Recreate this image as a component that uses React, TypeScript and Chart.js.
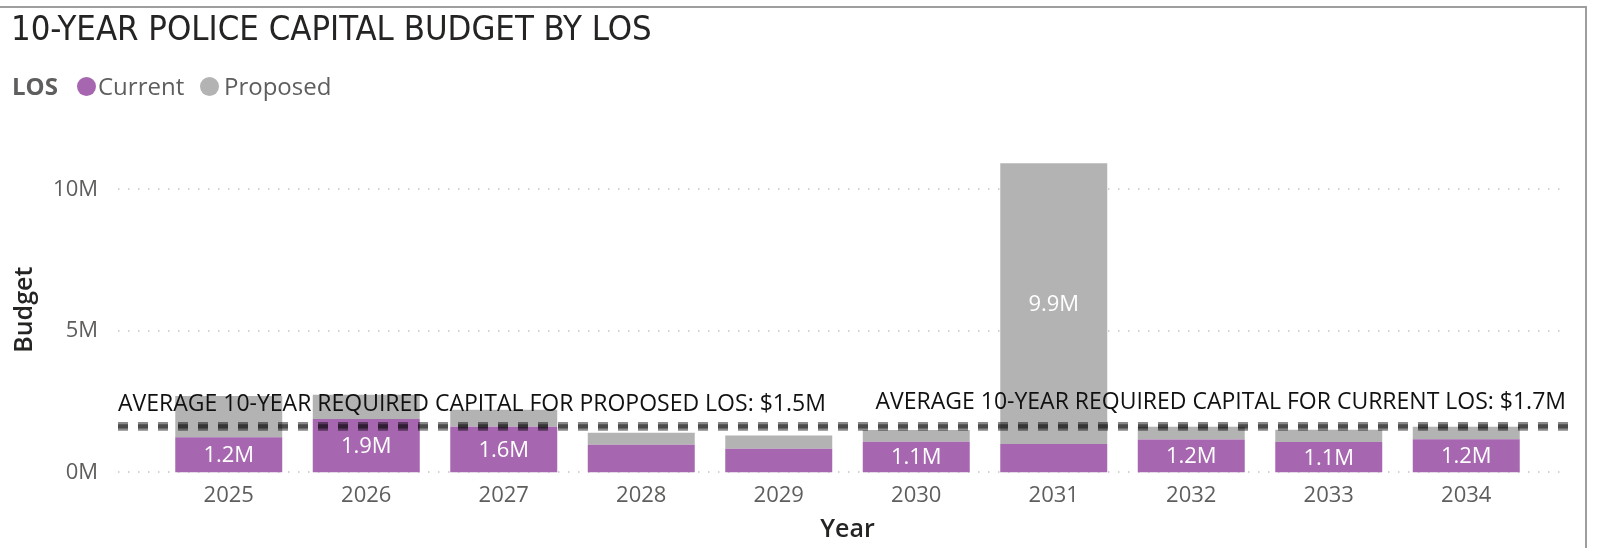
import React, { useEffect, useRef } from 'react';
import { Chart, registerables } from 'chart.js';

Chart.register(...registerables);

const years = ['2025', '2026', '2027', '2028', '2029', '2030', '2031', '2032', '2033', '2034'];
const currentBudget = [1.24e6, 1.89e6, 1.61e6, 0.98e6, 0.84e6, 1.08e6, 1.0e6, 1.16e6, 1.07e6, 1.17e6];
const proposedBudget = [1.46e6, 0.85e6, 0.6e6, 0.42e6, 0.46e6, 0.42e6, 9.93e6, 0.45e6, 0.44e6, 0.44e6];
const seriesNames = ['Current', 'Proposed'];
const yTickValues = [0, 5e6, 10e6];
const refLineValues = [1.59e6, 1.67e6];
const refLineTexts = [
  'AVERAGE 10-YEAR REQUIRED CAPITAL FOR PROPOSED LOS: $1.5M',
  'AVERAGE 10-YEAR REQUIRED CAPITAL FOR CURRENT LOS: $1.7M',
];
const refLineAligns = ['left', 'right'];

const TITLE = '10-YEAR POLICE CAPITAL BUDGET BY LOS';
const LEGEND_TITLE = 'LOS';
const PURPLE = '#A666B0';
const GREY = '#B3B3B3';
const FONT = '"Open Sans", "Noto Sans", sans-serif';

const fmtM = (v: number) => (v / 1e6).toFixed(1) + 'M';

const overlayPlugin = {
  id: 'overlay',
  beforeDatasetsDraw(chart: any) {
    const { ctx, chartArea, scales } = chart;
    const y = scales.y;
    const x0 = chartArea.left - 42;
    const x1 = chartArea.right + 33;
    ctx.save();
    ctx.strokeStyle = '#C4C4C4';
    ctx.lineWidth = 1.5;
    ctx.setLineDash([1.5, 8.5]);
    for (const v of yTickValues) {
      const py = Math.round(y.getPixelForValue(v));
      ctx.beginPath();
      ctx.moveTo(x0, py);
      ctx.lineTo(x1, py);
      ctx.stroke();
    }
    ctx.restore();
  },
  afterDatasetsDraw(chart: any) {
    const { ctx, chartArea, scales } = chart;
    const y = scales.y;
    const x0 = chartArea.left - 42;
    const x1 = chartArea.right + 33;
    const refYs = refLineValues.map((v) => y.getPixelForValue(v));
    ctx.save();
    // reference lines
    ctx.strokeStyle = 'rgba(0,0,0,0.46)';
    ctx.lineWidth = 6.5;
    ctx.setLineDash([10, 10]);
    refYs.forEach((ry) => {
      ctx.beginPath();
      ctx.moveTo(x0, ry);
      ctx.lineTo(x1, ry);
      ctx.stroke();
    });
    ctx.setLineDash([]);
    // reference labels
    ctx.font = `23px ${FONT}`;
    ctx.fillStyle = '#111111';
    ctx.textBaseline = 'alphabetic';
    refYs.forEach((ry, i) => {
      const align = refLineAligns[i];
      ctx.textAlign = align;
      ctx.fillText(refLineTexts[i], align === 'left' ? x0 : x1 - 2, ry - 16.5);
    });
    // data labels
    ctx.font = `22px ${FONT}`;
    ctx.fillStyle = '#FFFFFF';
    ctx.textAlign = 'center';
    ctx.textBaseline = 'middle';
    chart.data.datasets.forEach((ds: any, di: number) => {
      const meta = chart.getDatasetMeta(di);
      meta.data.forEach((el: any, i: number) => {
        const p = el.getProps(['x', 'y', 'base'], true);
        const h = Math.abs(p.base - p.y);
        if (h < 30) return;
        const cy = (p.y + p.base) / 2;
        const top = cy - 11;
        const bottom = cy + 11;
        if (refYs.some((ry) => ry + 4 > top && ry - 4 < bottom)) return;
        ctx.fillText(fmtM(ds.data[i]), p.x, cy + 1);
      });
    });
    ctx.restore();
  },
};

export default function App() {
  const canvasRef = useRef<HTMLCanvasElement | null>(null);

  useEffect(() => {
    const canvas = canvasRef.current;
    if (!canvas) return;
    const chart = new Chart(canvas, {
      type: 'bar',
      data: {
        labels: years,
        datasets: [
          {
            label: seriesNames[0],
            data: currentBudget,
            backgroundColor: PURPLE,
            borderWidth: 0,
            categoryPercentage: 1,
            barPercentage: 0.778,
          },
          {
            label: seriesNames[1],
            data: proposedBudget,
            backgroundColor: GREY,
            borderWidth: 0,
            categoryPercentage: 1,
            barPercentage: 0.778,
          },
        ],
      },
      options: {
        responsive: false,
        animation: false,
        devicePixelRatio: 1,
        layout: { padding: { top: 147, right: 63, left: 0, bottom: 0 } },
        plugins: {
          legend: { display: false },
          title: { display: false },
          tooltip: { enabled: false },
        },
        scales: {
          x: {
            stacked: true,
            offset: true,
            grid: { display: false, drawTicks: false },
            border: { display: false },
            ticks: {
              color: '#605E5C',
              font: { family: FONT, size: 22 },
              padding: 10,
            },
            title: {
              display: true,
              text: 'Year',
              color: '#252423',
              font: { family: FONT, size: 25, weight: '600' },
              padding: { top: 0, bottom: 3 },
            },
            afterFit: (scale: any) => {
              scale.height = 75.6;
            },
          },
          y: {
            stacked: true,
            min: 0,
            max: 11.5e6,
            grid: { display: false, drawTicks: false },
            border: { display: false },
            afterBuildTicks: (scale: any) => {
              scale.ticks = yTickValues.map((v) => ({ value: v }));
            },
            ticks: {
              color: '#605E5C',
              font: { family: FONT, size: 22 },
              padding: 62,
              callback: (v: any) => Number(v) / 1e6 + 'M',
            },
            title: {
              display: true,
              text: 'Budget',
              color: '#252423',
              font: { family: FONT, size: 25, weight: '600' },
              padding: { top: 10, bottom: 0 },
            },
            afterFit: (scale: any) => {
              scale.width = 160;
            },
          },
        },
      },
      plugins: [overlayPlugin],
    });
    return () => chart.destroy();
  }, []);

  const legendText: React.CSSProperties = {
    position: 'absolute',
    top: 74,
    fontFamily: FONT,
    fontSize: 24,
    lineHeight: '1',
    color: '#605E5C',
    whiteSpace: 'nowrap',
  };
  const dot = (left: number, color: string): React.CSSProperties => ({
    position: 'absolute',
    left,
    top: 77,
    width: 19,
    height: 19,
    borderRadius: '50%',
    background: color,
  });

  return (
    <div
      style={{
        position: 'fixed',
        left: 0,
        top: 0,
        width: 1598,
        height: 548,
        background: '#FFFFFF',
        overflow: 'hidden',
      }}
    >
      <canvas
        ref={canvasRef}
        width={1598}
        height={548}
        style={{ position: 'absolute', left: 0, top: 0, width: 1598, height: 548 }}
      />
      <div
        style={{
          position: 'absolute',
          left: 0,
          top: 6,
          width: 1585,
          height: 600,
          borderTop: '2px solid #9E9E9E',
          borderRight: '2px solid #9E9E9E',
          pointerEvents: 'none',
        }}
      />
      <div
        style={{
          position: 'absolute',
          left: 11,
          top: 11,
          fontFamily: '"Liberation Sans Narrow", "DejaVu Sans Condensed", sans-serif',
          fontSize: 34.4,
          lineHeight: '1',
          color: '#252423',
          whiteSpace: 'nowrap',
        }}
      >
        {TITLE}
      </div>
      <div style={{ ...legendText, left: 12, fontWeight: 700 }}>{LEGEND_TITLE}</div>
      <div style={dot(77, PURPLE)} />
      <div style={{ ...legendText, left: 98 }}>{seriesNames[0]}</div>
      <div style={dot(200, GREY)} />
      <div style={{ ...legendText, left: 224 }}>{seriesNames[1]}</div>
    </div>
  );
}
